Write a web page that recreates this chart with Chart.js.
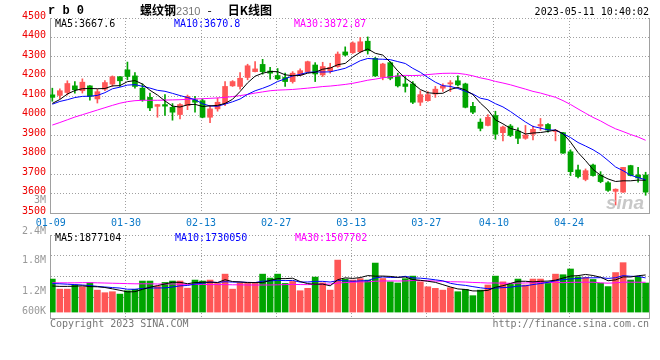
<!DOCTYPE html>
<html><head><meta charset="utf-8">
<script src="https://cdn.jsdelivr.net/npm/chart.js@4.4.0/dist/chart.umd.min.js"></script>
<style>
html,body{margin:0;padding:0;background:#fff;}
#wrap{position:relative;width:660px;height:360px;overflow:hidden;font-family:'DejaVu Sans Mono',monospace;font-size:10px;}
canvas{position:absolute;left:0;top:0;}
.t{position:absolute;white-space:nowrap;line-height:10px;}
.r{text-align:right;}
.ib{display:inline-block;}
</style></head><body>
<div id="wrap">
<canvas id="vol" width="660" height="360"></canvas>
<canvas id="main" width="660" height="360"></canvas>
<div class="t" style="left:48px;top:5px;font-weight:bold;font-size:12px;line-height:12px;font-family:'Liberation Mono','DejaVu Sans Mono',monospace;">r b 0</div>
<div class="t" style="left:140px;top:4px;font-family:'Noto Sans CJK SC';font-size:12px;line-height:12px;font-weight:bold;">螺纹钢<span style="color:#777;font-family:'Liberation Sans';font-weight:normal;font-size:11px;">2310</span><span class="ib" style="margin-left:7px;margin-right:16px;font-weight:normal;">-</span>日K线图</div>
<div class="t" style="right:11px;top:7px;">2023-05-11 10:40:02</div>
<div class="t" style="left:55px;top:19px;color:#000;">MA5:3667.6</div>
<div class="t" style="left:174px;top:19px;color:#0000ff;">MA10:3670.8</div>
<div class="t" style="left:294px;top:19px;color:#ff00ff;">MA30:3872.87</div>
<div class="t" style="left:55px;top:233px;color:#000;">MA5:1877104</div>
<div class="t" style="left:175px;top:233px;color:#0000ff;">MA10:1730050</div>
<div class="t" style="left:295px;top:233px;color:#ff00ff;">MA30:1507702</div>
<div class="t r" style="right:614px;top:195px;color:#999;">3M</div>
<div id="vlabels"></div>
<div class="t" style="left:50px;top:319px;color:#777;">Copyright 2023 SINA.COM</div>
<div class="t" style="right:11px;top:319px;color:#777;">http://finance.sina.com.cn</div>
<div class="t" style="left:606px;top:193px;color:#c8c8c8;font-family:'Liberation Sans';font-style:italic;font-weight:bold;font-size:19px;line-height:19px;">sina</div>
</div>
<script>
const dates = ['01-09','01-10','01-11','01-12','01-13','01-16','01-17','01-18','01-19','01-20','01-30','01-31','02-01','02-02','02-03','02-06','02-07','02-08','02-09','02-10','02-13','02-14','02-15','02-16','02-17','02-20','02-21','02-22','02-23','02-24','02-27','02-28','03-01','03-02','03-03','03-06','03-07','03-08','03-09','03-10','03-13','03-14','03-15','03-16','03-17','03-20','03-21','03-22','03-23','03-24','03-27','03-28','03-29','03-30','03-31','04-03','04-04','04-06','04-07','04-10','04-11','04-12','04-13','04-14','04-17','04-18','04-19','04-20','04-21','04-24','04-25','04-26','04-27','04-28','05-04','05-05','05-08','05-09','05-10','05-11'];
const tickDates = ['01-09','01-30','02-13','02-27','03-13','03-27','04-10','04-24'];
const opens  = [4106,4103,4118,4152,4127,4152,4085,4135,4161,4199,4234,4203,4140,4093,4047,4056,4042,4005,4051,4081,4076,3991,4034,4061,4152,4149,4195,4225,4262,4228,4205,4195,4174,4208,4225,4259,4208,4230,4251,4326,4322,4327,4381,4293,4196,4271,4203,4162,4162,4068,4076,4110,4140,4162,4178,4162,4047,3966,3949,4000,3912,3946,3920,3883,3904,3946,3954,3918,3912,3814,3721,3672,3746,3695,3655,3611,3607,3743,3695,3695];
const highs  = [4140,4137,4178,4174,4188,4153,4135,4179,4203,4200,4274,4220,4162,4115,4057,4107,4061,4061,4105,4098,4085,4051,4090,4174,4179,4220,4263,4276,4288,4247,4241,4217,4225,4239,4279,4271,4273,4268,4326,4352,4378,4400,4403,4298,4268,4276,4217,4200,4174,4127,4123,4149,4162,4179,4203,4166,4068,3983,4005,4022,3946,3954,3937,3949,3946,3985,3959,3929,3914,3824,3746,3726,3751,3712,3661,3624,3734,3745,3734,3709];
const lows   = [4073,4086,4105,4115,4115,4078,4064,4127,4149,4149,4183,4140,4073,4025,3991,4000,3976,3983,4030,4017,3988,3963,4022,4051,4149,4135,4183,4224,4212,4186,4183,4149,4166,4205,4222,4174,4200,4217,4247,4305,4318,4322,4315,4200,4183,4183,4146,4120,4061,4051,4073,4093,4123,4123,4152,4039,4010,3921,3946,3878,3870,3892,3856,3878,3875,3924,3915,3870,3805,3692,3680,3665,3689,3655,3611,3541,3605,3690,3658,3591];
const closes = [4093,4127,4164,4132,4171,4098,4122,4169,4199,4178,4200,4149,4081,4039,4056,4048,4017,4056,4098,4068,3991,4034,4068,4149,4174,4191,4255,4239,4225,4217,4188,4174,4217,4230,4276,4213,4251,4247,4315,4310,4372,4378,4332,4203,4264,4191,4152,4149,4068,4107,4107,4135,4152,4168,4157,4042,4017,3934,3991,3904,3941,3898,3883,3900,3929,3954,3925,3921,3807,3712,3687,3717,3692,3661,3616,3622,3734,3692,3680,3607];
const ma5  = [4062,4082,4110,4128,4137.4,4138.4,4137.4,4138.4,4151.8,4153.2,4173.6,4179,4161.4,4129.4,4105,4074.6,4048.2,4043.2,4055,4057.4,4046,4049.4,4051.8,4062,4083.2,4123.2,4167.4,4201.6,4216.8,4225.4,4224.8,4208.6,4204.2,4205.2,4217,4222,4237.4,4243.4,4260.4,4267.2,4299,4324.4,4341.4,4319,4309.8,4273.6,4228.4,4191.8,4164.8,4133.4,4116.6,4113.2,4113.8,4133.8,4143.8,4130.8,4107.2,4063.6,4028.2,3977.6,3957.4,3933.6,3923.4,3905.2,3910.2,3912.8,3918.2,3925.8,3907.2,3863.8,3810.4,3768.8,3723,3693.8,3674.6,3661.6,3665,3665,3668.8,3667.6];
const ma10 = [4058,4072,4081,4092,4098,4099,4103,4117,4137,4145.3,4156,4158.2,4149.9,4140.6,4129.1,4124.1,4113.6,4102.3,4092.2,4081.2,4060.3,4048.8,4047.5,4058.5,4070.3,4084.6,4108.4,4126.7,4139.4,4154.3,4174,4188,4202.9,4211,4221.2,4223.4,4223,4223.8,4232.8,4242.1,4260.5,4280.9,4292.4,4289.7,4288.5,4286.3,4276.4,4266.6,4241.9,4221.6,4195.1,4170.8,4152.8,4149.3,4138.6,4123.7,4110.2,4088.7,4081,4060.7,4044.1,4020.4,3993.5,3966.7,3943.9,3935.1,3925.9,3924.6,3906.2,3887,3861.6,3843.5,3824.4,3800.5,3769.2,3736,3716.9,3694,3681.3,3670.8];
const ma30 = [3951,3964,3978,3992,4004,4016,4028,4040,4052,4063,4071,4076,4078,4078,4078,4079,4080,4081,4083,4085,4086,4088,4090,4093,4097,4102,4108,4115,4121,4127.0,4130.2,4131.7,4133.5,4136.8,4140.3,4144.1,4148.4,4151.0,4154.9,4159.3,4165.0,4172.7,4181.0,4186.5,4193.4,4198.2,4202.7,4205.8,4204.8,4206.1,4209.9,4213.3,4216.1,4216.7,4216.2,4211.2,4203.3,4193.1,4185.3,4174.9,4166.6,4157.4,4146.3,4135.3,4123.7,4115.1,4104.2,4093.4,4076.4,4056.5,4033.7,4011.6,3990.3,3972.2,3950.6,3931.7,3917.7,3902.5,3889.6,3872.87];
// volume in millions of lots
const volumes = [1.67,1.16,1.16,1.37,1.28,1.48,1.11,0.98,1.03,0.91,1.08,1.15,1.57,1.57,1.32,1.50,1.57,1.57,1.21,1.62,1.57,1.62,1.45,1.92,1.16,1.48,1.45,1.45,1.92,1.72,1.92,1.45,1.55,1.08,1.20,1.77,1.48,1.11,2.63,1.67,1.62,1.69,1.62,2.48,1.70,1.53,1.47,1.69,1.82,1.53,1.28,1.20,1.11,1.23,1.03,1.15,0.83,1.11,1.37,1.82,1.53,1.40,1.67,1.37,1.67,1.67,1.45,1.92,1.89,2.18,1.78,1.75,1.65,1.46,1.29,2.00,2.50,1.62,1.78,1.47];
const volMa5  = [1.32,1.30,1.30,1.31,1.328,1.29,1.28,1.244,1.176,1.102,1.022,1.03,1.148,1.256,1.338,1.422,1.506,1.506,1.434,1.494,1.508,1.518,1.494,1.636,1.544,1.526,1.492,1.492,1.492,1.604,1.692,1.692,1.712,1.544,1.44,1.41,1.416,1.328,1.638,1.732,1.702,1.744,1.846,1.816,1.822,1.804,1.76,1.774,1.642,1.608,1.558,1.504,1.388,1.27,1.17,1.144,1.07,1.07,1.098,1.256,1.332,1.446,1.558,1.558,1.528,1.556,1.566,1.616,1.72,1.822,1.844,1.904,1.85,1.764,1.586,1.63,1.78,1.774,1.838,1.877];
const volMa10 = [1.44,1.43,1.41,1.39,1.37,1.34,1.30,1.27,1.24,1.215,1.156,1.155,1.196,1.216,1.22,1.222,1.268,1.327,1.345,1.416,1.465,1.512,1.50,1.535,1.519,1.517,1.505,1.493,1.564,1.574,1.609,1.592,1.602,1.518,1.522,1.551,1.554,1.52,1.591,1.586,1.556,1.58,1.587,1.727,1.777,1.753,1.752,1.81,1.729,1.715,1.681,1.632,1.581,1.456,1.389,1.351,1.287,1.229,1.184,1.213,1.238,1.258,1.314,1.328,1.392,1.444,1.506,1.587,1.639,1.675,1.70,1.735,1.733,1.742,1.704,1.737,1.842,1.812,1.801,1.730];
const volMa30 = [1.48,1.48,1.48,1.48,1.49,1.49,1.48,1.47,1.46,1.45,1.44,1.43,1.43,1.43,1.42,1.42,1.42,1.41,1.40,1.40,1.40,1.39,1.39,1.39,1.38,1.38,1.37,1.37,1.37,1.371,1.379,1.389,1.402,1.392,1.389,1.399,1.411,1.415,1.468,1.493,1.511,1.529,1.531,1.561,1.574,1.575,1.572,1.576,1.596,1.593,1.583,1.569,1.558,1.535,1.531,1.520,1.499,1.488,1.470,1.473,1.460,1.458,1.462,1.472,1.488,1.485,1.484,1.511,1.486,1.503,1.508,1.510,1.511,1.477,1.463,1.479,1.513,1.511,1.510,1.508];
const volTickLabels = ['2.4M','1.8M','1.2M','600K'];
const volTickLabelY = [231,260,291,311];

const RED = '#ff5656', GREEN = '#00a400', GRID = '#a0a0a0', AXIS = '#a0a0a0';
const MONO = "'DejaVu Sans Mono', monospace";
const DOT = [1, 2];
const tickIdx = tickDates.map(d => dates.indexOf(d));
const xTicks = tickIdx.map(i => i - 0.2);
const isUp = closes.map((c, i) => c >= opens[i]);
const cColor = isUp.map(u => u ? RED : GREEN);
const pts = arr => arr.map((v, i) => ({x: i, y: v}));

// volume axis labels (as real text)
const vl = document.getElementById('vlabels');
volTickLabels.forEach((t, k) => {
  const d = document.createElement('div');
  d.className = 't r'; d.style.right = '614px'; d.style.top = (volTickLabelY[k] - 5) + 'px';
  d.style.color = '#999'; d.textContent = t; vl.appendChild(d);
});

const XMIN = -0.31, XMAX = 79.45;
function xAxis(showLabels) {
  return {
    type: 'linear', min: XMIN, max: XMAX, offset: false,
    afterBuildTicks: s => { s.ticks = xTicks.map(v => ({value: v})); },
    afterFit: s => { s.height = showLabels ? 22 : 0; },
    grid: {display: true, color: GRID, lineWidth: 1, drawTicks: false, offset: false},
    border: {display: true, color: AXIS, dash: DOT},
    ticks: {display: showLabels, color: '#0a78c8', padding: 4, maxRotation: 0, autoSkip: false,
      font: {family: MONO, size: 10},
      callback: v => { const i = Math.round(v + 0.2); return dates[i]; }}
  };
}
const rightAxis = {
  position: 'right', display: true, min: 0, max: 1,
  afterFit: s => { s.width = 0; },
  grid: {display: false}, ticks: {display: false},
  border: {display: true, color: AXIS}
};
const lineDs = (data, color) => ({type: 'line', data: pts(data), borderColor: color, borderWidth: 1,
  pointRadius: 0, tension: 0, fill: false, order: 0, yAxisID: 'y'});

new Chart(document.getElementById('main'), {
  type: 'bar',
  data: {datasets: [
    lineDs(ma5, '#000000'),
    lineDs(ma10, '#0000ff'),
    lineDs(ma30, '#ff00ff'),
    {data: closes.map((c, i) => ({x: i, y: [opens[i], c]})), backgroundColor: cColor, borderWidth: 0,
      barThickness: 5, minBarLength: 1, grouped: false, order: 2, yAxisID: 'y'},
    {data: closes.map((c, i) => ({x: i, y: [lows[i], highs[i]]})), backgroundColor: cColor, borderWidth: 0,
      barThickness: 1, grouped: false, order: 3, yAxisID: 'y'}
  ]},
  options: {
    responsive: false, animation: false, devicePixelRatio: 1, events: [],
    layout: {padding: {top: 18, right: 11, bottom: 125, left: 0}},
    plugins: {legend: {display: false}, tooltip: {enabled: false}},
    scales: {
      x: xAxis(true),
      y: {type: 'linear', min: 3500, max: 4500,
        afterFit: s => { s.width = 50; },
        ticks: {stepSize: 100, color: '#ee0000', padding: 4, labelOffset: -2, font: {family: MONO, size: 10},
          callback: v => String(v)},
        grid: {color: GRID, drawTicks: false},
        border: {display: true, color: AXIS, dash: DOT}},
      y2: rightAxis
    }
  }
});

new Chart(document.getElementById('vol'), {
  type: 'bar',
  data: {datasets: [
    lineDs(volMa5, '#000000'),
    lineDs(volMa10, '#0000ff'),
    lineDs(volMa30, '#ff00ff'),
    {data: volumes.map((v, i) => ({x: i, y: v})), backgroundColor: cColor, borderWidth: 0,
      barThickness: 6, grouped: false, order: 2, yAxisID: 'y'}
  ]},
  options: {
    responsive: false, animation: false, devicePixelRatio: 1, events: [],
    layout: {padding: {top: 235, right: 11, bottom: 42, left: 0}},
    plugins: {legend: {display: false}, tooltip: {enabled: false}},
    scales: {
      x: xAxis(false),
      y: {type: 'linear', min: -0.3, max: 3.9,
        afterBuildTicks: s => { s.ticks = [-0.3, 0.75, 1.8, 2.85, 3.9].map(v => ({value: v})); },
        afterFit: s => { s.width = 50; },
        ticks: {display: false},
        grid: {color: GRID, drawTicks: false},
        border: {display: true, color: AXIS, dash: DOT}},
      y2: rightAxis
    }
  }
});
</script>
</body></html>
